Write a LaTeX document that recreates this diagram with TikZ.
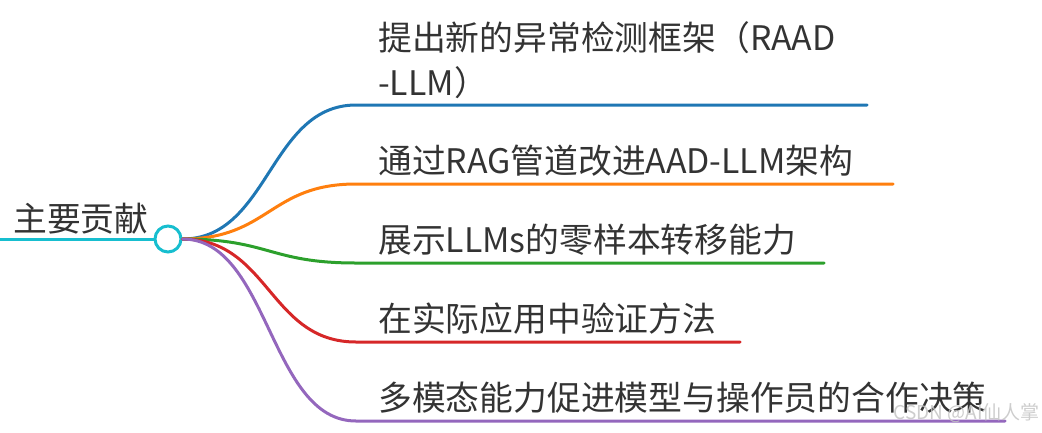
\documentclass[tikz,border=0pt]{standalone}
\usepackage{fontspec}
\usetikzlibrary{calc}
\newfontfamily\cjk{Noto Sans CJK SC}
\definecolor{rootc}{HTML}{17BECF}
\definecolor{cblue}{HTML}{1F77B4}
\definecolor{corange}{HTML}{FF7F0E}
\definecolor{cgreen}{HTML}{2CA02C}
\definecolor{cred}{HTML}{D62728}
\definecolor{cpurple}{HTML}{9467BD}
\definecolor{textgray}{HTML}{333333}
\definecolor{wmgray}{HTML}{C4C4C4}
\begin{document}
\begin{tikzpicture}[x=1pt,y=-1pt,
  lbl/.style={font=\cjk\fontsize{33.8}{45}\selectfont, text=textgray, anchor=base west, inner sep=0pt, align=left},
  branch/.style={line width=3pt, line cap=round},
  rootline/.style={line width=3pt, draw=rootc}]
\useasboundingbox (0,0) rectangle (1042,432);
% root
\coordinate (rs) at (-2,239);
\draw[rootline] (rs) -- (155,239);
\node[circle, draw=rootc, line width=3pt, minimum size=26pt, inner sep=0pt, fill=white] (root) at (168,239) {};
\node[lbl] (roottext) at (13,231) {主要贡献};
% child line ends
\coordinate (s1) at (356,105); \coordinate (e1) at (867,105);
\coordinate (s2) at (356,184); \coordinate (e2) at (893,184);
\coordinate (s3) at (356,263); \coordinate (e3) at (824,263);
\coordinate (s4) at (356,342); \coordinate (e4) at (740,342);
\coordinate (s5) at (356,421); \coordinate (e5) at (1005,421);
\foreach \i/\c in {1/cblue,2/corange,3/cgreen,4/cred,5/cpurple}{
  \draw[branch, draw=\c] (root.east) .. controls ($(root.east)!0.5!(s\i |- root.east)$) and ($(s\i)!0.5!(root.east |- s\i)$) .. (s\i) -- (e\i);
}
% labels
\node[lbl] (t1) at (378,95) {提出新的异常检测框架（RAAD\\-LLM）};
\node[lbl] (t2) at (378,173) {通过RAG管道改进AAD-LLM架构};
\node[lbl] (t3) at (378,252) {展示LLMs的零样本转移能力};
\node[lbl] (t4) at (378,331) {在实际应用中验证方法};
\node[lbl] (t5) at (378,410) {多模态能力促进模型与操作员的合作决策};
% watermark
\node[font=\cjk\fontsize{19}{19}\selectfont, text=wmgray, anchor=base east, inner sep=0pt, opacity=0.85] (wm) at (1040,419) {CSDN @AI仙人掌};
\end{tikzpicture}
\end{document}
